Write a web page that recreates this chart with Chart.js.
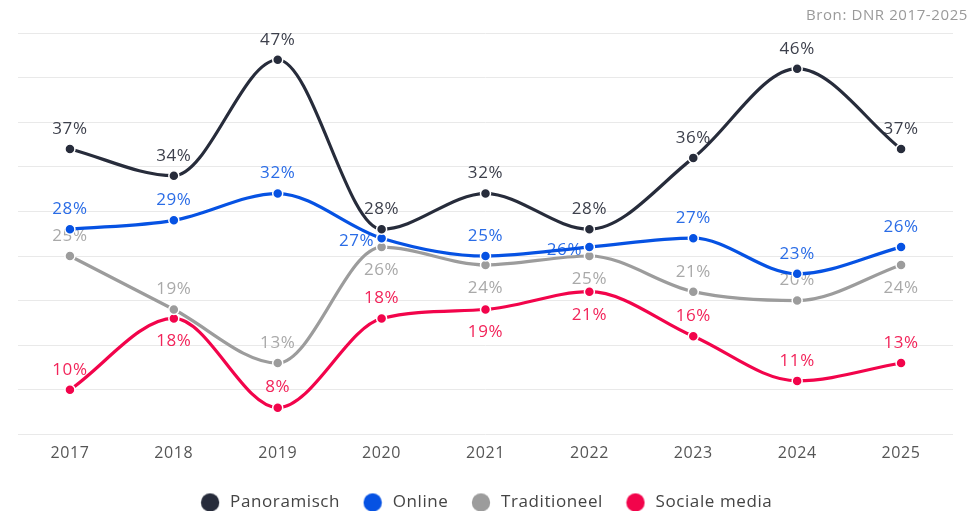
<!DOCTYPE html>
<html><head><meta charset="utf-8">
<script src="https://cdn.jsdelivr.net/npm/chart.js@4"></script>
<style>html,body{margin:0;padding:0;background:#fff}#wrap{width:978px;height:511px;position:relative}</style>
</head><body><div id="wrap"><canvas id="c"></canvas></div>
<script>
const years = ['2017','2018','2019','2020','2021','2022','2023','2024','2025'];
const panoramisch = [37,34,47,28,32,28,36,46,37];
const online = [28,29,32,27,25,26,27,23,26];
const traditioneel = [25,19,13,26,24,25,21,20,24];
const socialeMedia = [10,18,8,18,19,21,16,11,13];
const seriesNames = ['Panoramisch','Online','Traditioneel','Sociale media'];
const sourceNote = 'Bron: DNR 2017-2025';

const lineColors = ['#272c3b','#0652e3','#9c9c9c','#f2044b'];
const labelColors = ['#3d404c','#2a6ce6','#a9a9a9','#f2245a'];
// label placement per point: a = above, b = below, l = left
const labelPlacement = [
  ['a','a','a','a','a','a','a','a','a'],
  ['a','a','a','l','a','l','a','a','a'],
  ['a','a','a','b','b','b','a','a','b'],
  ['a','b','a','a','b','b','a','a','a']
];
const FONT = '"Open Sans", sans-serif';

function dot(color){
  const c = document.createElement('canvas');
  c.width = 20; c.height = 20;
  const g = c.getContext('2d');
  g.fillStyle = color; g.beginPath(); g.arc(10,10,9.2,0,Math.PI*2); g.fill();
  return c;
}
const dots = lineColors.map(dot);

const spacingPlugin = {
  id: 'spacing',
  beforeUpdate(chart){ chart.ctx.letterSpacing = '0.6px'; },
  beforeDraw(chart){ chart.ctx.letterSpacing = '0.6px'; }
};
const labelsPlugin = {
  id: 'pointLabels',
  beforeDatasetsDraw(chart){
    const ctx = chart.ctx;
    ctx.save();
    ctx.font = '17px ' + FONT;
    ctx.textAlign = 'center';
    ctx.textBaseline = 'middle';
    chart.data.datasets.forEach((ds, i) => {
      const meta = chart.getDatasetMeta(i);
      ctx.fillStyle = labelColors[i];
      meta.data.forEach((pt, j) => {
        const p = labelPlacement[i][j];
        let dx = 0, dy = -20;
        if (p === 'b') dy = 23;
        if (p === 'l') { dx = -25; dy = 3; }
        ctx.fillText(ds.data[j] + '%', pt.x + dx, pt.y + dy);
      });
    });
    ctx.restore();
  },
  afterDraw(chart){
    const ctx = chart.ctx;
    ctx.save();
    ctx.font = '15px ' + FONT;
    ctx.fillStyle = '#9a9a9a';
    ctx.textAlign = 'right';
    ctx.textBaseline = 'middle';
    ctx.fillText(sourceNote, 968, 16);
    ctx.restore();
  }
};

const seriesData = [panoramisch, online, traditioneel, socialeMedia];
const datasets = seriesData.map((d, i) => ({
  label: seriesNames[i],
  data: d,
  borderColor: lineColors[i],
  backgroundColor: lineColors[i],
  pointBackgroundColor: lineColors[i],
  pointBorderColor: '#ffffff',
  pointBorderWidth: 1.5,
  pointRadius: 5,
  pointHoverRadius: 5,
  borderWidth: 3.2,
  cubicInterpolationMode: 'monotone',
  fill: false
}));

new Chart(document.getElementById('c'), {
  type: 'line',
  data: { labels: years, datasets },
  plugins: [spacingPlugin, labelsPlugin],
  options: {
    responsive: true,
    maintainAspectRatio: false,
    animation: false,
    layout: { padding: { left: 18, right: 25, top: 33, bottom: -10 } },
    plugins: {
      tooltip: { enabled: false },
      legend: {
        position: 'bottom',
        labels: {
          usePointStyle: true,
          pointStyleWidth: 23,
          boxHeight: 17,
          padding: 21,
          color: '#444',
          font: { family: FONT, size: 17 },
          generateLabels(chart){
            const items = Chart.defaults.plugins.legend.labels.generateLabels(chart);
            items.forEach(it => { it.pointStyle = dots[it.datasetIndex]; });
            return items;
          }
        }
      }
    },
    scales: {
      x: {
        offset: true,
        grid: { display: false, drawTicks: false },
        border: { display: false },
        ticks: { color: '#555', padding: 9.7, font: { family: FONT, size: 16 } }
      },
      y: {
        min: 5, max: 50,
        grid: { color: '#e9e9e9', lineWidth: 1, drawTicks: false },
        border: { display: false },
        ticks: { display: false, stepSize: 5 }
      }
    }
  }
});
</script></body></html>
